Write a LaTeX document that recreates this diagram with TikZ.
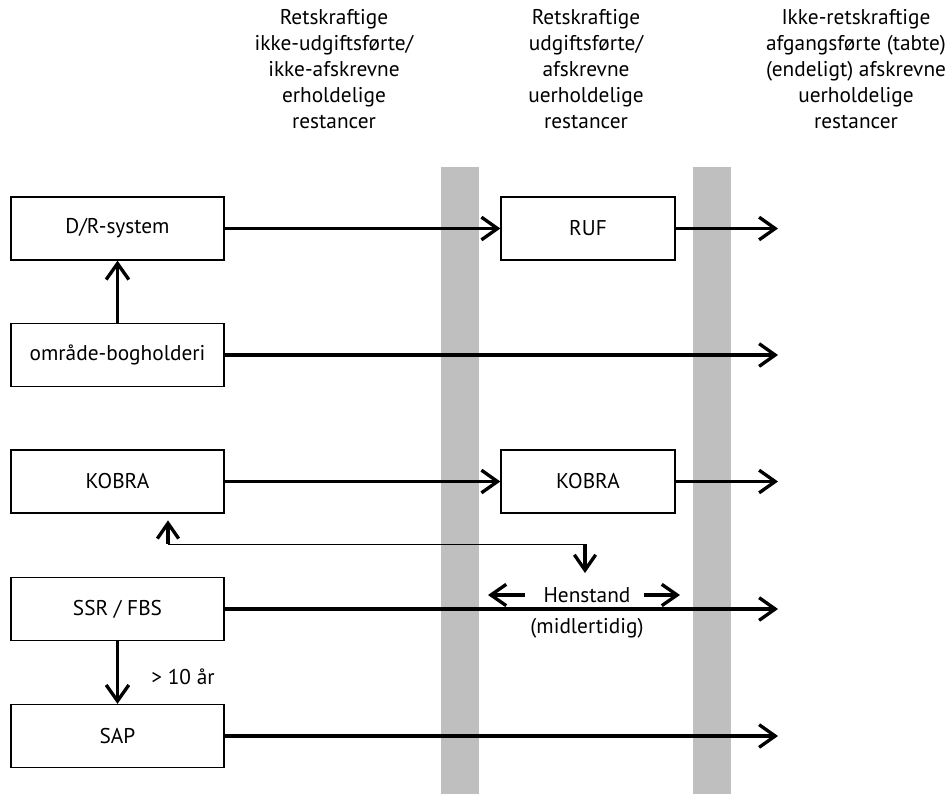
\documentclass[tikz,border=0pt]{standalone}
\usepackage{fontspec}
\setmainfont{PT Sans}
\usetikzlibrary{arrows.meta,positioning}
\tikzset{sysbox/.style={draw, line width=1pt, minimum width=159.75pt, minimum height=47.25pt, inner sep=0pt, font=\fontsize{16}{19.5}\selectfont},
  headtext/.style={align=center, font=\fontsize{16}{19.5}\selectfont},
  note/.style={font=\fontsize{16}{19.5}\selectfont, inner sep=0pt},
  band/.style={fill=black!25, draw=none},
  flow/.style={line width=2.5pt, -{Straight Barb[length=12pt,width=17pt]}},
  smallflow/.style={flow, -{Straight Barb[length=11.5pt,width=16pt]}},}

\begin{document}
\begin{tikzpicture}[x=0.75pt, y=-0.75pt]
\useasboundingbox (0,0) rectangle (952,794);
% grey bands
\fill[band] (441,167) rectangle (479,794);
\fill[band] (693,167) rectangle (731,794);

\node [headtext] (col1) at (334,69) {Retskraftige\\ikke-udgiftsførte/\\ikke-afskrevne\\erholdelige\\restancer};
\node [headtext] (col2) at (586,69) {Retskraftige\\udgiftsførte/\\afskrevne\\uerholdelige\\restancer};
\node [headtext] (col3) at (856,69) {Ikke-retskraftige\\afgangsførte (tabte)\\(endeligt) afskrevne\\uerholdelige\\restancer};

\node [sysbox] (dr) at (117.5,228.5) {D/R-system};
\node [sysbox] (omr) at (117.5,355) {område-bogholderi};
\node [sysbox] (kobra) at (117.5,481.5) {KOBRA};
\node [sysbox] (ssr) at (117.5,609) {SSR / FBS};
\node [sysbox] (sap) at (117.5,736) {SAP};
\node [sysbox, minimum width=130.5pt] (ruf) at (588,228.5) {RUF};
\node [sysbox, minimum width=130.5pt] (kobrab) at (588,481.5) {KOBRA};

\node [note] (henstand) at (587,595) {Henstand};
\node [note] (midl) at (587,628) {(midlertidig)};
\node [note] (aar) at (183,677) {> 10 år};

\coordinate (e1) at (778,228.5);
\coordinate (e2) at (778,355);
\coordinate (e3) at (778,481.5);
\coordinate (e4) at (778,609);
\coordinate (e5) at (778,736);
\coordinate (kup) at (168,544);
\coordinate (hdn) at (585,544);
\coordinate (hend) at (585,573);
\coordinate (hl) at (488,595);
\coordinate (hr) at (680,595);

\draw[flow] (dr) -- (ruf);
\draw[flow] (ruf) -- (e1);
\draw[flow] (omr) -- (e2);
\draw[flow] (kobra) -- (kobrab);
\draw[flow] (kobrab) -- (e3);
\draw[flow] (ssr) -- (e4);
\draw[flow] (sap) -- (e5);
\draw[flow] (omr.north) -- (dr.south);
\draw[flow] (ssr.south) -- (sap.north);

\draw[line width=0.75pt] (kup) -- (hdn);
\draw[smallflow, shorten >=5pt] (kup) -- (kobra.south -| kup);
\draw[smallflow] (hdn) -- (hend);
\draw[smallflow] ([xshift=-14pt]henstand.west) -- (hl);
\draw[smallflow] ([xshift=10pt]henstand.east) -- (hr);
\end{tikzpicture}
\end{document}
